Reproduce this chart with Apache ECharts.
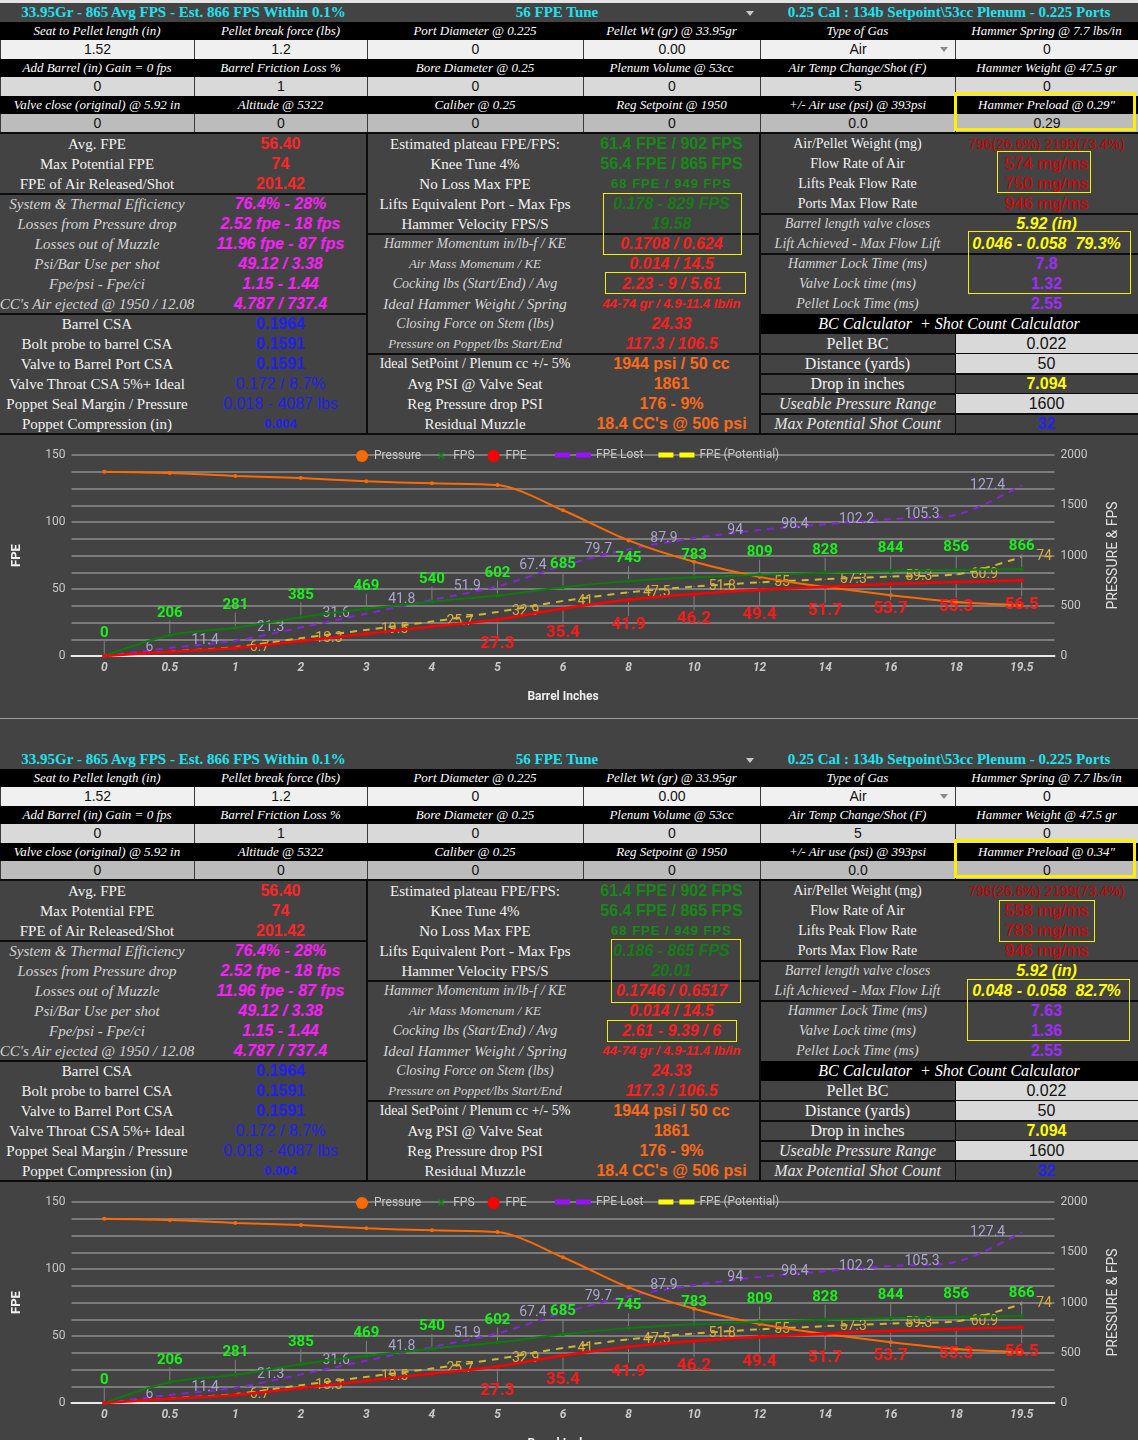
<!DOCTYPE html>
<html>
<head>
<meta charset="utf-8">
<script src="https://cdn.jsdelivr.net/npm/echarts@6/dist/echarts.min.js"></script>
<style>
html, body { margin: 0; padding: 0; }
body { width: 1138px; height: 1440px; overflow: hidden; background: #434343; position: relative; font-family: "Liberation Serif", serif; }
.strip { position: absolute; left: 0; top: 0; width: 1138px; height: 3px; background: #e4e4e4; }
.panel { position: absolute; left: 0; width: 1138px; height: 747px; }
.c { position: absolute; text-align: center; white-space: nowrap; box-sizing: border-box; }
.hdr { color: #1fe2f0; font: bold 15px "Liberation Serif", serif; }
.lab { background: #000; color: #fff; font: italic 13px "Liberation Serif", serif; }
.val { color: #111; font: 14px "Liberation Sans", Arial, sans-serif; border-left: 1px solid #3a3a3a; }
.v1 { background: #f0f0f0; } .v2 { background: #d9d9d9; } .v3 { background: #bcbcbc; }
.line { position: absolute; background: #0c0c0c; }
.box { position: absolute; border: 1px solid #f2f200; box-sizing: border-box; }
.thick { border: 3px solid #ffee00; }
.arrow { position: absolute; width: 0; height: 0; border-left: 4px solid transparent; border-right: 4px solid transparent; }
/* stat labels */
.n { color: #f2f2f2; font: 15px "Liberation Serif", serif; }
.ns { color: #f2f2f2; font: 14px "Liberation Serif", serif; }
.i { color: #d4d4d4; font: italic 15px "Liberation Serif", serif; }
.is { color: #d4d4d4; font: italic 14px "Liberation Serif", serif; }
.ix { color: #d4d4d4; font: italic 13px "Liberation Serif", serif; }
.b { color: #f2f2f2; font: 16px "Liberation Serif", serif; }
.bi { color: #e6e6e6; font: italic 16px "Liberation Serif", serif; }
/* stat values */
.red { color: #ff2626; font: bold 16px "Liberation Sans", Arial, sans-serif; }
.mag { color: #ff1eff; font: italic bold 16px "Liberation Sans", Arial, sans-serif; }
.blu { color: #2020f4; font: bold 16px "Liberation Sans", Arial, sans-serif; }
.blun { color: #2020f4; font: 16px "Liberation Sans", Arial, sans-serif; }
.blus { color: #2020f4; font: bold 13px "Liberation Sans", Arial, sans-serif; }
.grn { color: #178917; font: bold 16px "Liberation Sans", Arial, sans-serif; }
.grns { color: #178917; font: bold 13px "Liberation Sans", Arial, sans-serif; letter-spacing: 1px; }
.grni { color: #167c16; font: italic bold 16px "Liberation Sans", Arial, sans-serif; }
.rdi { color: #ff1e1e; font: italic bold 16px "Liberation Sans", Arial, sans-serif; }
.rdis { color: #ff1e1e; font: italic bold 13px "Liberation Sans", Arial, sans-serif; }
.org { color: #ff6a18; font: bold 16px "Liberation Sans", Arial, sans-serif; }
.drd { color: #c80000; font: 14px "Liberation Sans", Arial, sans-serif; }
.rdn { color: #dc0000; font: 17px "Liberation Sans", Arial, sans-serif; }
.yel { color: #ffff00; font: italic bold 16px "Liberation Sans", Arial, sans-serif; }
.pur { color: #a02cff; font: bold 16px "Liberation Sans", Arial, sans-serif; }
.bc { color: #111; background: #d9d9d9; font: 16px "Liberation Sans", Arial, sans-serif; }
.bcy { color: #ffff00; font: bold 16px "Liberation Sans", Arial, sans-serif; }
.bcb { color: #2222ff; font: bold 16px "Liberation Sans", Arial, sans-serif; }
.bchead { background: #000; color: #fff; font: italic 16px "Liberation Serif", serif; }
.chart { position: absolute; left: 0; width: 1138px; height: 284px; }
.band { position: absolute; left: 0; width: 1138px; height: 1px; background: #9c9c9c; }
</style>
</head>
<body>
<div class="strip"></div>
<script>
// ---- chart data ----
const barrelInches = ['0', '0.5', '1', '2', '3', '4', '5', '6', '8', '10', '12', '14', '16', '18', '19.5'];
const pressurePsi = [1834, 1821, 1791, 1771, 1738, 1718, 1701, 1450, 1150, 937, 787, 688, 605, 538, 506];
const fpsValues = [0, 206, 281, 385, 469, 540, 602, 685, 745, 783, 809, 828, 844, 856, 866];
const fpeValues = [0, 3.2, 6.0, 11.2, 16.6, 22.0, 27.3, 35.4, 41.9, 46.2, 49.4, 51.7, 53.7, 55.3, 56.5];
const fpeLost = [0, 6, 11.4, 21.3, 31.6, 41.8, 51.9, 67.4, 79.7, 87.9, 94, 98.4, 102.2, 105.3, 127.4];
const fpePotential = [0, 3.4, 6.7, 13.3, 19.5, 25.7, 32.9, 41, 47.5, 51.8, 55, 57.3, 59.3, 60.9, 74];
const fpeTicks = [0, 50, 100, 150];

// ---- sheet texts ----
const headers = ['33.95Gr - 865 Avg FPS - Est. 866 FPS Within 0.1%', '56 FPE Tune', '0.25 Cal : 134b Setpoint\\53cc Plenum - 0.225 Ports'];
const inputLabels = [
  ['Seat to Pellet length (in)', 'Pellet break force (lbs)', 'Port Diameter @ 0.225', 'Pellet Wt (gr) @ 33.95gr', 'Type of Gas', 'Hammer Spring @ 7.7 lbs/in'],
  ['Add Barrel (in) Gain = 0 fps', 'Barrel Friction Loss %', 'Bore Diameter @ 0.25', 'Plenum Volume @ 53cc', 'Air Temp Change/Shot (F)', 'Hammer Weight @ 47.5 gr'],
  ['Valve close (original) @ 5.92 in', 'Altitude @ 5322', 'Caliber @ 0.25', 'Reg Setpoint @ 1950', '+/- Air use (psi) @ 393psi', 'Hammer Preload @ 0.29"']
];
const inputValues = [
  ['1.52', '1.2', '0', '0.00', 'Air', '0'],
  ['0', '1', '0', '0', '5', '0'],
  ['0', '0', '0', '0', '0.0', '0.29']
];
const leftRows = [
  ['Avg. FPE', '56.40', 'n', 'red'], ['Max Potential FPE', '74', 'n', 'red'], ['FPE of Air Released/Shot', '201.42', 'n', 'red'],
  ['System &amp; Thermal Efficiency', '76.4% - 28%', 'i', 'mag'], ['Losses from Pressure drop', '2.52 fpe - 18 fps', 'i', 'mag'],
  ['Losses out of Muzzle', '11.96 fpe - 87 fps', 'i', 'mag'], ['Psi/Bar Use per shot', '49.12 / 3.38', 'i', 'mag'],
  ['Fpe/psi - Fpe/ci', '1.15 - 1.44', 'i', 'mag'], ["CC's Air ejected @ 1950 / 12.08", '4.787 / 737.4', 'i', 'mag'],
  ['Barrel CSA', '0.1964', 'n', 'blu'], ['Bolt probe to barrel CSA', '0.1591', 'n', 'blu'], ['Valve to Barrel Port CSA', '0.1591', 'n', 'blu'],
  ['Valve Throat CSA 5%+ Ideal', '0.172 / 8.7%', 'n', 'blun'], ['Poppet Seal Margin / Pressure', '0.018 - 4087 lbs', 'n', 'blun'],
  ['Poppet Compression (in)', '0.004', 'n', 'blus']
];
const midRows = [
  ['Estimated plateau FPE/FPS:', '61.4 FPE / 902 FPS', 'n', 'grn'], ['Knee Tune 4%', '56.4 FPE / 865 FPS', 'n', 'grn'],
  ['No Loss Max FPE', '68 FPE / 949 FPS', 'n', 'grns'], ['Lifts Equivalent Port - Max Fps', '0.178 - 829 FPS', 'n', 'grni'],
  ['Hammer Velocity FPS/S', '19.58', 'n', 'grni'], ['Hammer Momentum in/lb-f / KE', '0.1708 / 0.624', 'is', 'rdi'],
  ['Air Mass Momenum / KE', '0.014 / 14.5', 'ix', 'rdi'], ['Cocking lbs (Start/End) / Avg', '2.23 - 9 / 5.61', 'is', 'rdi'],
  ['Ideal Hammer Weight / Spring', '44-74 gr / 4.9-11.4 lb/in', 'i', 'rdis'], ['Closing Force on Stem (lbs)', '24.33', 'is', 'rdi'],
  ['Pressure on Poppet/lbs Start/End', '117.3 / 106.5', 'ix', 'rdi'], ['Ideal SetPoint / Plenum cc +/- 5%', '1944 psi / 50 cc', 'ns', 'org'],
  ['Avg PSI @ Valve Seat', '1861', 'n', 'org'], ['Reg Pressure drop PSI', '176 - 9%', 'n', 'org'],
  ['Residual Muzzle', "18.4 CC's @ 506 psi", 'n', 'org']
];
const rightRows = [
  ['Air/Pellet Weight (mg)', '796(26.6%) 2199(73.4%)', 'ns', 'drd'], ['Flow Rate of Air', '574 mg/ms', 'ns', 'rdn'],
  ['Lifts Peak Flow Rate', '750 mg/ms', 'ns', 'rdn'], ['Ports Max Flow Rate', '946 mg/ms', 'ns', 'rdn'],
  ['Barrel length valve closes', '5.92 (in)', 'is', 'yel'], ['Lift Achieved - Max Flow Lift', '0.046 - 0.058&nbsp;&nbsp;79.3%', 'is', 'yel'],
  ['Hammer Lock Time (ms)', '7.8', 'is', 'pur'], ['Valve Lock time (ms)', '1.32', 'is', 'pur'], ['Pellet Lock Time (ms)', '2.55', 'is', 'pur'],
  ['BC Calculator&nbsp; + Shot Count Calculator', '', 'bchead', ''],
  ['Pellet BC', '0.022', 'b', 'bc'], ['Distance (yards)', '50', 'b', 'bc'], ['Drop in inches', '7.094', 'b', 'bcy'],
  ['Useable Pressure Range', '1600', 'bi', 'bc'], ['Max Potential Shot Count', '32', 'bi', 'bcb']
];
// second tune: values that differ from the first one
const secondTune = {
  preloadLabel: 'Hammer Preload @ 0.34"', preloadValue: '0',
  mid: { 3: '0.186 - 865 FPS', 4: '20.01', 5: '0.1746 / 0.6517', 7: '2.61 - 9.39 / 6' },
  right: { 1: '558 mg/ms', 2: '783 mg/ms', 5: '0.048 - 0.058&nbsp;&nbsp;82.7%', 6: '7.63', 7: '1.36' }
};

const COLS = [0, 194, 367, 583, 760, 955, 1138];

function put(parent, x, y, w, h, html, cls, css) {
  const d = document.createElement('div');
  d.className = 'c ' + (cls || '');
  d.style.cssText = 'left:' + x + 'px;top:' + y + 'px;width:' + w + 'px;height:' + h + 'px;line-height:' + h + 'px;' + (css || '');
  d.innerHTML = html;
  parent.appendChild(d);
  return d;
}
function rule(parent, x, y, w, h, cls) {
  const d = document.createElement('div');
  d.className = cls || 'line';
  d.style.cssText = 'left:' + x + 'px;top:' + y + 'px;width:' + w + 'px;height:' + h + 'px;';
  parent.appendChild(d);
  return d;
}
function arrow(parent, x, y, color) {
  const d = document.createElement('div');
  d.className = 'arrow';
  d.style.cssText = 'left:' + (x - 4) + 'px;top:' + y + 'px;border-top:5px solid ' + color + ';';
  parent.appendChild(d);
}

function buildPanel(top, tune) {
  const p = document.createElement('div');
  p.className = 'panel';
  p.style.top = top + 'px';
  document.body.appendChild(p);

  // header
  put(p, 0, 0, 367, 19, headers[0], 'hdr');
  put(p, 367, 0, 380, 19, headers[1], 'hdr');
  put(p, 760, 0, 378, 19, headers[2], 'hdr');
  arrow(p, 750, 8, '#c8c8c8');

  // input rows
  const labY = [19, 56, 93], valY = [37, 74, 111];
  for (let r = 0; r < 3; r++) {
    for (let c = 0; c < 6; c++) {
      let lab = inputLabels[r][c], val = inputValues[r][c];
      if (tune && r === 2 && c === 5) { lab = tune.preloadLabel; val = tune.preloadValue; }
      put(p, COLS[c], labY[r], COLS[c + 1] - COLS[c], 18, lab, 'lab');
      put(p, COLS[c], valY[r], COLS[c + 1] - COLS[c], r === 2 ? 18 : 19, val, 'val v' + (r + 1));
    }
  }
  arrow(p, 944, 44, '#8a8a8a');
  rule(p, 0, 129, 1138, 2);

  // stats blocks
  const y0 = 131, rh = 20;
  const blocks = [
    { x: [0, 194, 367], rows: leftRows, seps: [3, 9], over: {} },
    { x: [367, 583, 760], rows: midRows, seps: [5, 11], over: tune ? tune.mid : {} },
    { x: [760, 955, 1138], rows: rightRows, seps: [4, 6], over: tune ? tune.right : {} }
  ];
  blocks.forEach(function (b) {
    b.rows.forEach(function (row, i) {
      const y = y0 + i * rh;
      const val = b.over[i] !== undefined ? b.over[i] : row[1];
      if (row[2] === 'bchead') {
        put(p, b.x[0], y, b.x[2] - b.x[0], rh, row[0], 'bchead');
        return;
      }
      put(p, b.x[0] - 4, y, b.x[1] - b.x[0] + 8, rh, row[0], row[2]);
      put(p, b.x[1], y, b.x[2] - b.x[1], rh, val, row[3]);
      if (b === blocks[2] && i >= 10) {
        rule(p, b.x[0], y + rh - 1, b.x[2] - b.x[0], 2);
        rule(p, b.x[1], y, 1, rh);
      }
    });
    b.seps.forEach(function (s) { rule(p, b.x[0], y0 + s * rh - 1, b.x[2] - b.x[0], 2); });
  });
  rule(p, 366, y0, 2, 300);
  rule(p, 759, y0, 2, 300);
  rule(p, 0, 430, 1138, 2);

  // highlight boxes
  const boxes = tune
    ? [[611, 189, 130, 64], [607, 270, 130, 22], [999, 150, 96, 42], [967, 229, 163, 62]]
    : [[603, 190, 139, 62], [605, 269, 141, 22], [997, 148, 94, 42], [968, 228, 163, 63]];
  boxes.forEach(function (bx) { rule(p, bx[0], bx[1], bx[2], bx[3], 'box'); });
  rule(p, 954, 89, 182, 39, 'box thick');

  // chart
  const el = document.createElement('div');
  el.className = 'chart';
  el.style.top = '431px';
  p.appendChild(el);
  rule(p, 0, 715, 1138, 1, 'band');
  buildChart(el);
}

function buildChart(el) {
  const chart = echarts.init(el);
  const font = 'Roboto';
  const stem = { show: true, lineStyle: { color: '#808080', width: 1 } };
  const xIcon = 'image://data:image/svg+xml;charset=utf-8,' + encodeURIComponent(
    '<svg xmlns="http://www.w3.org/2000/svg" width="14" height="12"><path d="M4 2.5L10 8.5M10 2.5L4 8.5" stroke="#0d8a0d" stroke-width="1.6"/></svg>');
  const dashIcon = 'path://M0,0h15v5h-15zM21,0h15v5h-15z';
  const legendText = { color: '#c8c8c8', fontSize: 12, fontFamily: font };

  chart.setOption({
    animation: false,
    textStyle: { fontFamily: font },
    grid: { left: 71.5, right: 83.5, top: 21, height: 201 },
    legend: [
      { left: 351, top: 11, itemWidth: 14, itemHeight: 12, itemGap: 13, textStyle: legendText,
        data: [{ name: 'Pressure', icon: 'circle' }, { name: 'FPS', icon: xIcon }, { name: 'FPE', icon: 'circle' }] },
      { left: 550, top: 10, itemWidth: 36, itemHeight: 5, itemGap: 15, textStyle: legendText,
        data: [{ name: 'FPE Lost', icon: dashIcon, itemStyle: { color: '#9a10ff' } },
               { name: 'FPE (Potential)', icon: dashIcon, itemStyle: { color: '#ffff00' } }] }
    ],
    xAxis: {
      type: 'category', data: barrelInches, boundaryGap: true,
      axisTick: { show: false },
      axisLine: { lineStyle: { color: '#e8e8e8', width: 2 } },
      axisLabel: { color: '#c8c8c8', fontStyle: 'italic', fontWeight: 'bold', fontSize: 12, margin: 6 },
      name: 'Barrel Inches', nameLocation: 'middle', nameGap: 35,
      nameTextStyle: { color: '#eeeeee', fontWeight: 'bold', fontSize: 12 }
    },
    yAxis: [
      {
        type: 'value', min: 0, max: 150, interval: 12.5, position: 'left',
        axisLine: { show: false }, axisTick: { show: false },
        axisLabel: { color: '#c8c8c8', fontSize: 12, margin: 6, formatter: function (v) { return fpeTicks.indexOf(v) >= 0 ? String(v) : ''; } },
        splitLine: { lineStyle: { color: '#8e8e8e', width: 1.5 } },
        name: 'FPE', nameLocation: 'middle', nameRotate: 90, nameGap: 48,
        nameTextStyle: { color: '#f0f0f0', fontWeight: 'bold', fontSize: 13 }
      },
      {
        type: 'value', min: 0, max: 2000, interval: 500, position: 'right',
        axisLine: { show: false }, axisTick: { show: false }, splitLine: { show: false },
        axisLabel: { color: '#c8c8c8', fontSize: 12, margin: 6, formatter: function (v) { return String(v); } },
        name: 'PRESSURE & FPS', nameLocation: 'middle', nameRotate: 90, nameGap: 52,
        nameTextStyle: { color: '#e0e0e0', fontSize: 14 }
      }
    ],
    series: [
      {
        name: 'Pressure', type: 'line', yAxisIndex: 1, data: pressurePsi, smooth: 0.3,
        symbol: 'circle', symbolSize: 4, z: 3,
        itemStyle: { color: '#ff6a00' }, lineStyle: { color: '#ff6a00', width: 2 }
      },
      {
        name: 'FPS', type: 'line', yAxisIndex: 1, data: fpsValues, smooth: 0.3,
        symbol: 'circle', symbolSize: 4, z: 4,
        itemStyle: { color: '#0b7d0b' }, lineStyle: { color: '#0b7d0b', width: 2 },
        label: { show: true, position: 'top', distance: 4, color: '#1cf01c', fontWeight: 'bold', fontSize: 15 },
        labelLayout: { dy: -9 }, labelLine: stem
      },
      {
        name: 'FPE', type: 'line', data: fpeValues.map(function (v, i) {
          return i >= 6 ? v : { value: v, label: { show: false }, labelLine: { show: false } };
        }), smooth: 0.3,
        symbol: 'circle', symbolSize: 4, z: 5,
        itemStyle: { color: '#ff0000' }, lineStyle: { color: '#ff0000', width: 2.5 },
        label: { show: true, position: 'bottom', distance: 4, color: '#ff1a1a', fontWeight: 'bold', fontSize: 17 },
        labelLayout: { dy: 10 }, labelLine: stem
      },
      {
        name: 'FPE Lost', type: 'line', data: fpeLost.map(function (v, i) {
          return i >= 1 ? v : { value: v, label: { show: false } };
        }), smooth: 0.3,
        symbol: 'circle', symbolSize: 1, z: 2,
        itemStyle: { color: '#8424e0' }, lineStyle: { color: '#8424e0', width: 2, type: [7, 6] },
        label: { show: true, position: 'left', distance: 16, color: '#aaa4d0', fontSize: 14 }
      },
      {
        name: 'FPE (Potential)', type: 'line', data: fpePotential.map(function (v, i) {
          return i >= 2 ? v : { value: v, label: { show: false } };
        }), smooth: 0.3,
        symbol: 'circle', symbolSize: 1, z: 2,
        itemStyle: { color: '#cdb834' }, lineStyle: { color: '#cdb834', width: 2, type: [7, 6] },
        label: { show: true, position: 'right', distance: 14, color: '#dcab3c', fontSize: 14 }
      }
    ]
  });
}

buildPanel(3, null);
buildPanel(750, secondTune);
</script>
</body>
</html>
